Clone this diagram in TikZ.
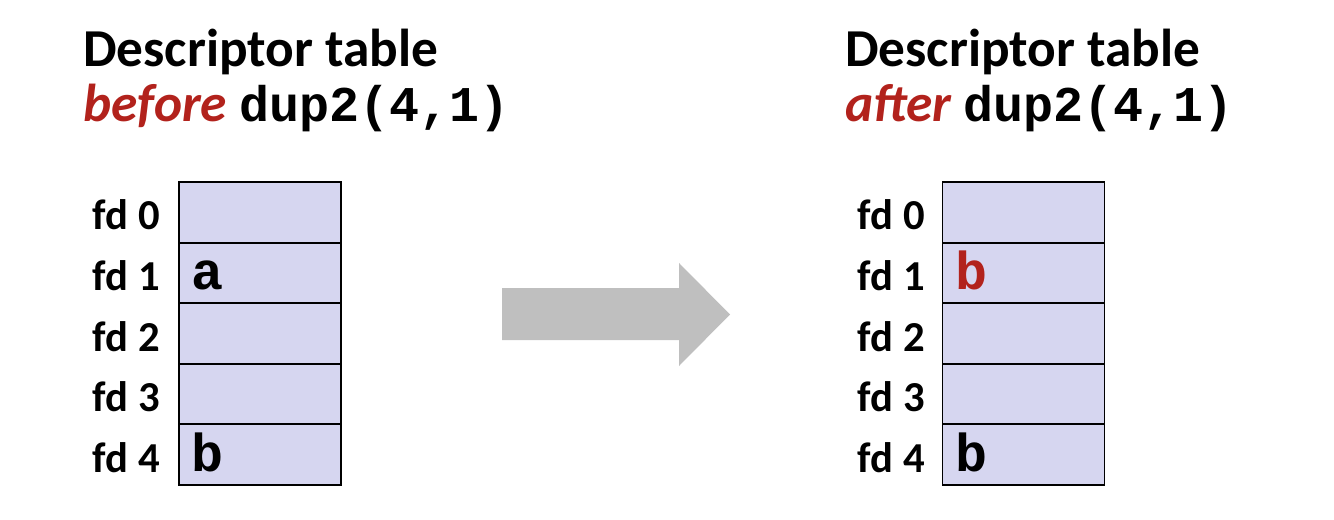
\documentclass[tikz,border=0pt]{standalone}
\usepackage{fontspec}
\setmainfont{Carlito}
\setmonofont{Liberation Mono}
\usepackage{tikz}

\definecolor{slideRed}{RGB}{178,34,28}
\definecolor{cellFill}{RGB}{214,214,240}
\definecolor{arrowGray}{RGB}{191,191,191}
\newcommand{\dupcall}{{\fontsize{37.5}{40}\selectfont\ttfamily dup2(4,1)}}

\begin{document}
\begin{tikzpicture}[x=0.75pt,y=0.75pt,yscale=-1,xscale=1,
    fdcell/.style={draw,line width=1.4pt,fill=cellFill,inner sep=0pt,minimum width=121.5pt,minimum height=45.45pt},
    fdlabel/.style={anchor=base east,inner sep=0pt,font=\fontsize{32}{32}\selectfont\bfseries},
    fdentry/.style={anchor=base west,inner sep=0pt,font=\fontsize{40}{40}\selectfont\ttfamily\bfseries},
    headline/.style={anchor=base west,inner sep=0pt,font=\fontsize{40}{40}\selectfont\bfseries}]
        \useasboundingbox (0,0) rectangle (1334,520);

        % Title left
        \node (titleL1) at (83,67) [headline] {Descriptor table};
        \node (titleL2) at (83,122) [headline] {{\color{slideRed}\itshape before} \dupcall};
        % Title right
        \node (titleR1) at (845,67) [headline] {Descriptor table};
        \node (titleR2) at (845,122) [headline] {{\color{slideRed}\itshape after} \dupcall};

        % Table before
        \node (cellL0) at (260,212.3) [fdcell] {};
        \node (cellL1) at (260,272.9) [fdcell] {};
        \node (cellL2) at (260,333.5) [fdcell] {};
        \node (cellL3) at (260,394.1) [fdcell] {};
        \node (cellL4) at (260,454.7) [fdcell] {};
        \node (lblL0) at (160,230) [fdlabel] {fd 0};
        \node (lblL1) at (160,290.6) [fdlabel] {fd 1};
        \node (lblL2) at (160,351.2) [fdlabel] {fd 2};
        \node (lblL3) at (160,411.8) [fdlabel] {fd 3};
        \node (lblL4) at (160,472.4) [fdlabel] {fd 4};
        \node (entL1) at (191,289.5) [fdentry] {a};
        \node (entL4) at (191,471.7) [fdentry] {b};

        % Table after
        \node (cellR0) at (1023.5,212.3) [fdcell] {};
        \node (cellR1) at (1023.5,272.9) [fdcell] {};
        \node (cellR2) at (1023.5,333.5) [fdcell] {};
        \node (cellR3) at (1023.5,394.1) [fdcell] {};
        \node (cellR4) at (1023.5,454.7) [fdcell] {};
        \node (lblR0) at (925,230) [fdlabel] {fd 0};
        \node (lblR1) at (925,290.6) [fdlabel] {fd 1};
        \node (lblR2) at (925,351.2) [fdlabel] {fd 2};
        \node (lblR3) at (925,411.8) [fdlabel] {fd 3};
        \node (lblR4) at (925,472.4) [fdlabel] {fd 4};
        \node (entR1) at (955,289.5) [fdentry,text=slideRed] {b};
        \node (entR4) at (955,471.7) [fdentry] {b};

        %Shape: Right Arrow
        \fill [arrowGray] (502,288) -- (679,288) -- (679,263) -- (730,314.5) -- (679,366) -- (679,340) -- (502,340) -- cycle ;

\end{tikzpicture}
\end{document}
